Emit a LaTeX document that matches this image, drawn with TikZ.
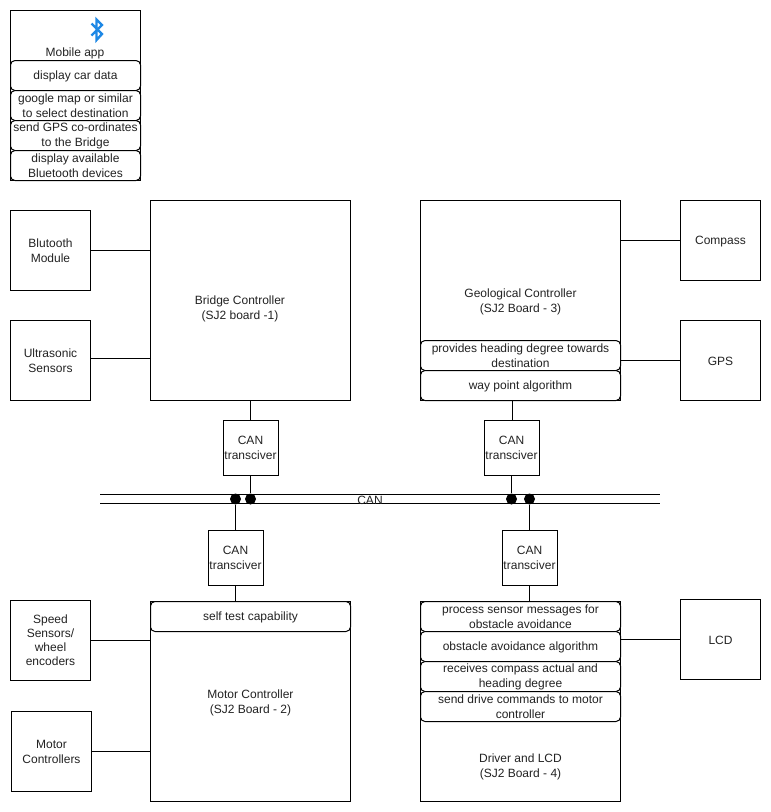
\documentclass[tikz,border=0pt]{standalone}
\usepackage{xcolor}
\usepackage{fontspec}
\setmainfont{Liberation Sans}
\usetikzlibrary{positioning,calc}
\definecolor{btblue}{HTML}{1E88E5}
\definecolor{txtgray}{HTML}{222222}
\tikzset{
    block/.style={draw, line width=1pt, inner sep=0pt, align=center, text=txtgray,
        font=\fontsize{12}{15}\selectfont, execute at begin node={\rule{0pt}{10.5pt}}},
    feature/.style={block, rounded corners=4.5pt, fill=white, minimum width=200pt, minimum height=30pt},
    sidebox/.style={block, minimum width=80pt, minimum height=80pt},
    board/.style={block, minimum width=200pt, minimum height=200pt},
    canbox/.style={block, minimum width=55pt, minimum height=55pt},
    caption/.style={inner sep=0pt, align=center, text=txtgray, font=\fontsize{12}{15}\selectfont,
        execute at begin node={\rule{0pt}{10.5pt}}},
    wire/.style={line width=1pt},
    joint/.style={circle, fill=black, inner sep=0pt, minimum size=11pt}
}
\begin{document}
\begin{tikzpicture}[x=1pt,y=-1pt]
    \useasboundingbox (0,0) rectangle (771,812);

    % Mobile app
    \node[block, minimum width=130pt, minimum height=170pt] (mobile) at (75.5,95.5) {};
    \node[caption] (mobiletxt) at (75,52) {Mobile app};
    \draw[btblue, line width=2.4pt, line join=miter] (91.5,23.5) -- (102,34) -- (96.5,40) -- (96.5,19.5) -- (102,25) -- (91.5,35.5);
    \node[feature, minimum width=130pt] (appa) at (75.5,75.5) {display car data};
    \node[feature, minimum width=130pt] (appb) at (75.5,105.5) {google map or similar\\to select destination};
    \node[feature, minimum width=130pt] (appc) at (75.5,135.5) {send GPS co-ordinates\\to the Bridge};
    \node[feature, minimum width=130pt] (appd) at (75.5,165.5) {display available\\Bluetooth devices};

    % Bridge Controller
    \node[board] (bridge) at (250.5,300.5) {};
    \node[caption] (bridgetxt) at (240,309) {Bridge Controller\\(SJ2 board -1)};
    \node[sidebox] (blue) at (50.5,250.5) {Blutooth\\Module};
    \node[sidebox] (ultra) at (50.5,360.5) {Ultrasonic\\Sensors};
    \draw[wire] (blue.east) -- (blue.east -| bridge.west);
    \draw[wire] ($(ultra.east)+(0,-2)$) -- ($(ultra.east -| bridge.west)+(0,-2)$);

    % Geological Controller
    \node[board] (geo) at (520.5,300.5) {};
    \node[caption] (geotxt) at (520.5,301.5) {Geological Controller\\(SJ2 Board - 3)};
    \node[feature] (geoa) at (520.5,355.5) {provides heading degree towards\\destination};
    \node[feature] (geob) at (520.5,385.5) {way point algorithm};
    \node[sidebox] (compass) at (720.5,240.5) {Compass};
    \node[sidebox] (gps) at (720.5,360.5) {GPS};
    \draw[wire] (compass.west) -- (compass.west -| geo.east);
    \draw[wire] (gps.west) -- (gps.west -| geo.east);

    % Motor Controller
    \node[board] (motor) at (250.5,701.5) {};
    \node[caption] (motortxt) at (250.5,702.5) {Motor Controller\\(SJ2 Board - 2)};
    \node[feature] (motora) at (250.5,616.5) {self test capability};
    \node[sidebox] (speed) at (50.5,640.5) {Speed\\[-1pt]Sensors/\\[-1pt]wheel\\[-1pt]encoders};
    \node[sidebox] (mctrl) at (51.5,751.5) {Motor\\Controllers};
    \draw[wire] (speed.east) -- (speed.east -| motor.west);
    \draw[wire] (mctrl.east) -- (mctrl.east -| motor.west);

    % Driver and LCD
    \node[board] (driver) at (520.5,701.5) {};
    \node[caption] (drivertxt) at (520.5,767) {Driver and LCD\\(SJ2 Board - 4)};
    \node[feature] (drva) at (520.5,616.5) {process sensor messages for\\obstacle avoidance};
    \node[feature] (drvb) at (520.5,646.5) {obstacle avoidance algorithm};
    \node[feature] (drvc) at (520.5,676.5) {receives compass actual and\\heading degree};
    \node[feature] (drvd) at (520.5,706.5) {send drive commands to motor\\controller};
    \node[sidebox] (lcd) at (720.5,639.5) {LCD};
    \draw[wire] (lcd.west) -- (lcd.west -| driver.east);

    % CAN bus
    \coordinate (busl) at (100,494.5);
    \coordinate (busr) at (660,494.5);
    \draw[wire] (busl) -- (busr);
    \draw[wire] ($(busl)+(0,9)$) -- ($(busr)+(0,9)$);
    \node[caption] (bustxt) at (370,499) {CAN};
    \node[joint] (ja) at (250.5,499) {};
    \node[joint] (jb) at (235.5,499) {};
    \node[joint] (jc) at (511.5,499) {};
    \node[joint] (jd) at (529.5,499) {};

    % Transcivers
    \node[canbox] (cana) at (250.5,447.5) {CAN\\transciver};
    \node[canbox] (canb) at (235.5,557.5) {CAN\\transciver};
    \node[canbox] (canc) at (511.5,447.5) {CAN\\transciver};
    \node[canbox] (cand) at (529.5,557.5) {CAN\\transciver};

    \draw[wire] (bridge.south) -- (cana.north);
    \draw[wire] (cana.south) -- (ja);
    \draw[wire] (jb) -- (canb.north);
    \draw[wire] (canb.south) -- (canb.south |- motora.north);
    \draw[wire] ($(canc.north |- geob.south)+(1,0)$) -- ($(canc.north)+(1,0)$);
    \draw[wire] (canc.south) -- (jc);
    \draw[wire] (jd) -- (cand.north);
    \draw[wire] (cand.south) -- (cand.south |- drva.north);
\end{tikzpicture}
\end{document}
